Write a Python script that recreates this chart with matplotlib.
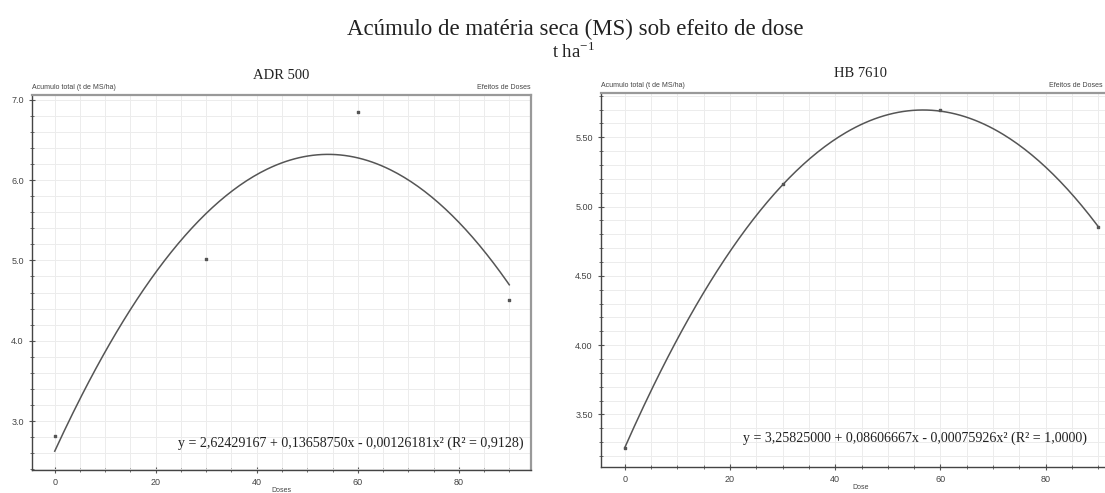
import numpy as np
import matplotlib
matplotlib.use("Agg")
import matplotlib.pyplot as plt
from matplotlib.ticker import MultipleLocator, FormatStrFormatter

# ---- data ----
doses = [0, 30, 60, 90]
adr_values = [2.81, 5.02, 6.85, 4.51]
hb_values = [3.26, 5.16, 5.70, 4.85]
adr_coef = [2.62429167, 0.13658750, -0.00126181]
hb_coef = [3.25825000, 0.08606667, -0.00075926]
adr_eq = "y = 2,62429167 + 0,13658750x - 0,00126181x\u00b2 (R\u00b2 = 0,9128)"
hb_eq = "y = 3,25825000 + 0,08606667x - 0,00075926x\u00b2 (R\u00b2 = 1,0000)"
x_ticks = [0, 20, 40, 60, 80]

fig = plt.figure(figsize=(11.05, 4.93), dpi=100)
fig.patch.set_facecolor("white")

serif = ["Liberation Serif", "DejaVu Serif"]
sans = ["Liberation Sans", "DejaVu Sans"]

fig.text(575 / 1105, 1 - 29 / 493, "Acúmulo de matéria seca (MS) sob efeito de dose",
         ha="center", va="center", fontsize=16.5, family=serif, color="#222")
fig.text(573 / 1105, 1 - 52 / 493, "t ha$^{\\mathregular{-1}}$",
         ha="center", va="center", fontsize=13.5, family=serif, color="#222")


def panel(rect, title, xlabel, values, coef, eq, ylim, ymaj, ymin, yfmt, eqpos):
    ax = fig.add_axes(rect)
    xs = np.linspace(0, 90, 200)
    ys = np.polyval(coef[::-1], xs)
    ax.plot(xs, ys, color="#555555", lw=1.1, zorder=3)
    ax.scatter(doses, values, s=4, marker="s", color="#555555", zorder=4)
    ax.set_xlim(-4.5, 94.3)
    ax.set_ylim(*ylim)
    ax.set_xticks(x_ticks)
    ax.xaxis.set_minor_locator(MultipleLocator(5))
    ax.yaxis.set_major_locator(MultipleLocator(ymaj))
    ax.yaxis.set_minor_locator(MultipleLocator(ymin))
    ax.yaxis.set_major_formatter(FormatStrFormatter(yfmt))
    ax.grid(True, which="both", color="#ececec", lw=0.7)
    ax.set_axisbelow(True)
    ax.tick_params(which="both", direction="inout", colors="#555555",
                   labelsize=6.5, labelcolor="#444444")
    ax.tick_params(which="major", length=5)
    ax.tick_params(which="minor", length=3)
    for s in ["left", "bottom"]:
        ax.spines[s].set_color("#444444")
        ax.spines[s].set_linewidth(1.0)
    for s in ["top", "right"]:
        ax.spines[s].set_color("#999999")
        ax.spines[s].set_linewidth(1.6)
    for lab in ax.get_xticklabels() + ax.get_yticklabels():
        lab.set_family(sans)
    ax.text(0.5, 1.035, title, transform=ax.transAxes, ha="center", va="bottom",
            fontsize=10.5, family=serif, color="#222")
    ax.text(0.0, 1.01, "Acumulo total (t de MS/ha)", transform=ax.transAxes,
            ha="left", va="bottom", fontsize=5, family=sans, color="#444")
    ax.text(eqpos[2], 1.01, "Efeitos de Doses", transform=ax.transAxes,
            ha="right", va="bottom", fontsize=5, family=sans, color="#444")
    ax.set_xlabel(xlabel, fontsize=5, family=sans, color="#444", labelpad=0)
    ax.text(eqpos[0], eqpos[1], eq, transform=ax.transData, ha="left",
            va="center", fontsize=10.1, family=serif, color="#222")
    return ax


panel([32 / 1105, 1 - 470 / 493, 499 / 1105, 375 / 493], "ADR 500", "Doses",
      adr_values, adr_coef, adr_eq, (2.39, 7.06), 1.0, 0.2, "%.1f",
      (24.5, 2.72, 1.0))
panel([601 / 1105, 1 - 467 / 493, 520 / 1105, 374 / 493], "HB 7610", "Dose",
      hb_values, hb_coef, hb_eq, (3.12, 5.82), 0.5, 0.1, "%.2f",
      (22.5, 3.33, 0.965))

fig.savefig("out.png", dpi=100, facecolor="white")
